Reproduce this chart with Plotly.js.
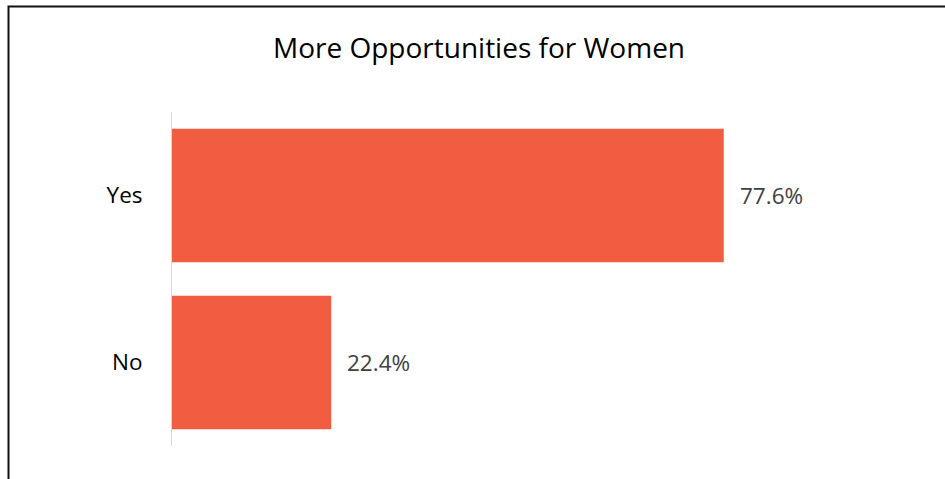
<!DOCTYPE html>
<html>
<head>
<meta charset="utf-8">
<script src="https://cdn.plot.ly/plotly-3.0.1.min.js"></script>
<style>
html,body{margin:0;padding:0;background:#fff;}
#chart{width:945px;height:479px;}
</style>
</head>
<body>
<div id="chart"></div>
<script>
var categories = ['Yes', 'No'];
var values = [77.6, 22.4];
var labels = ['77.6%', '22.4%'];
var chartTitle = 'More Opportunities for Women';

var W = 945, H = 479;
var mL = 172, mR = 62, mT = 112, mB = 33;
var pw = W - mL - mR, ph = H - mT - mB;
function px2x(p) { return (p - mL) / pw; }
function px2y(p) { return (H - mB - p) / ph; }

var trace = {
  type: 'bar',
  orientation: 'h',
  y: categories,
  x: values,
  marker: { color: '#F05D40' },
  hoverinfo: 'none'
};

var annotations = categories.map(function (c, i) {
  return {
    x: values[i], y: c, xref: 'x', yref: 'y',
    text: labels[i], showarrow: false,
    xanchor: 'left', yanchor: 'middle', xshift: 14,
    font: { family: 'Open Sans', size: 22.5, color: '#404040' }
  };
});

var layout = {
  width: W, height: H,
  margin: { l: mL, r: mR, t: mT, b: mB, pad: 0 },
  paper_bgcolor: '#fff', plot_bgcolor: '#fff',
  showlegend: false,
  bargap: 0.2,
  title: {
    text: chartTitle,
    font: { family: 'Open Sans', size: 28, color: '#000' },
    x: 479 / W, xanchor: 'center', xref: 'container',
    y: 1 - 48 / H, yanchor: 'middle', yref: 'container'
  },
  xaxis: {
    range: [0, 100], showgrid: false, zeroline: false,
    showticklabels: false, showline: false, ticks: '', fixedrange: true
  },
  yaxis: {
    type: 'category', categoryorder: 'array', categoryarray: categories,
    autorange: 'reversed', showgrid: false, zeroline: false,
    showline: true, linecolor: '#D9D9D9', linewidth: 1,
    ticks: '', ticklabelstandoff: 24,
    tickfont: { family: 'Open Sans', size: 22.5, color: '#000' },
    fixedrange: true
  },
  annotations: annotations,
  shapes: [{
    type: 'rect', xref: 'paper', yref: 'paper',
    x0: px2x(8.5), x1: px2x(960), y0: px2y(500), y1: px2y(6.5),
    line: { color: '#111', width: 2 }, fillcolor: 'rgba(0,0,0,0)'
  }]
};

Plotly.newPlot('chart', [trace], layout, { displayModeBar: false, staticPlot: true });
</script>
</body>
</html>
